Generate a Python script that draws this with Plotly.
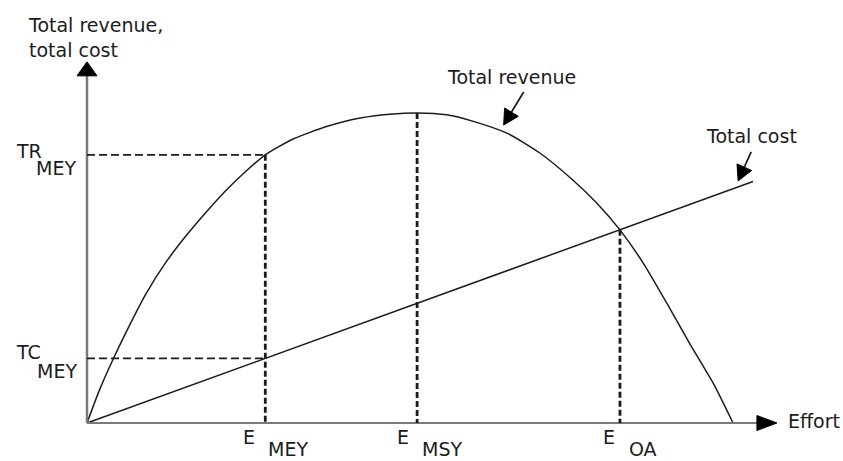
import numpy as np
import plotly.graph_objects as go

# Total revenue curve (effort vs revenue, arbitrary units)
effort = [0, 2.0, 4.2, 6.6, 9.1, 12.2, 15.3, 18.4, 21.5, 24.6, 27.6, 31.9, 37.2, 42.3,
          47.4, 51.1, 55.7, 59.8, 65.0, 70.1, 75.2, 78.9, 82.5, 86.1, 89.8, 93.3, 97.0, 100]
total_revenue = [0, 11.0, 21.3, 31.6, 41.6, 51.8, 60.3, 67.9, 75.0, 81.2, 86.5, 91.6, 95.7,
                 98.4, 99.7, 100, 99.4, 97.3, 93.5, 87.1, 78.4, 71.0, 62.3, 51.6, 38.5,
                 25.6, 12.6, 0]

# Total cost is linear in effort
cost_effort = [0, 103.1]
total_cost = [0, 77.9]

# Reference effort levels
E_MEY, E_MSY, E_OA = 27.6, 51.1, 82.5

TR_MEY = float(np.interp(E_MEY, effort, total_revenue))
TR_MSY = float(np.interp(E_MSY, effort, total_revenue))
TC_MEY = float(np.interp(E_MEY, cost_effort, total_cost))
TC_OA = float(np.interp(E_OA, cost_effort, total_cost))

# Axis extents (arrow tips)
X_AXIS_END = 106.8
Y_AXIS_TOP = 116.5

# Pixel geometry of the drawing
W, H = 843, 461
ML, MR, MT, MB = 40, 20, 40, 20
OX, OY = 87, 423          # origin in pixels
SX, SY = 6.46, 3.10       # pixels per data unit

x_range = [(ML - OX) / SX, (W - MR - OX) / SX]
y_range = [(OY - (H - MB)) / SY, (OY - MT) / SY]


def px2x(px):
    return (px - OX) / SX


def px2y(py):
    return (OY - py) / SY


def x2px(x):
    return OX + x * SX


def y2px(y):
    return OY - y * SY


INK = "#1c1c1c"
AXIS = "#7a7a7a"
FONT = dict(family="DejaVu Sans, Arial, sans-serif", size=19, color=INK)

shapes = []


def seg(x0, y0, x1, y1, color=INK, width=1.5, dash=None):
    line = dict(color=color, width=width)
    if dash:
        line["dash"] = dash
    shapes.append(dict(type="line", xref="x", yref="y", x0=x0, y0=y0, x1=x1, y1=y1,
                       line=line, layer="above"))


def head(tip_px, dir_px, length, width, color="black"):
    """Filled triangular arrowhead, built in pixel space and mapped to data."""
    tx, ty = tip_px
    dx, dy = dir_px
    n = np.hypot(dx, dy)
    dx, dy = dx / n, dy / n
    bx, by = tx - dx * length, ty - dy * length
    px_, py_ = -dy, dx
    pts = [(tx, ty), (bx + px_ * width / 2, by + py_ * width / 2),
           (bx - px_ * width / 2, by - py_ * width / 2)]
    path = "M " + " L ".join(f"{px2x(a):.4f},{px2y(b):.4f}" for a, b in pts) + " Z"
    shapes.append(dict(type="path", xref="x", yref="y", path=path,
                       fillcolor=color, line=dict(color=color, width=1), layer="above"))


def callout(tip_px, tail_px, blen=15, bwid=16):
    tx, ty = tip_px
    ax, ay = tail_px
    d = (tx - ax, ty - ay)
    n = np.hypot(*d)
    base = (tx - d[0] / n * (blen - 1), ty - d[1] / n * (blen - 1))
    seg(px2x(ax), px2y(ay), px2x(base[0]), px2y(base[1]), color=INK, width=1.7)
    head(tip_px, d, blen, bwid, color="black")


# Axes with arrowheads
seg(0, 0, 0, px2y(y2px(Y_AXIS_TOP) + 12), color=AXIS, width=2.5)
seg(0, 0, px2x(x2px(X_AXIS_END) - 18), 0, color=AXIS, width=2.2)
head((x2px(0), y2px(Y_AXIS_TOP)), (0, -1), 14, 20)
head((x2px(X_AXIS_END), y2px(0)), (1, 0), 20, 15)

# Dashed guides
HD = "8px,4px"
VD = "6px,3px"
seg(0, TR_MEY, E_MEY, TR_MEY, width=1.8, dash=HD)
seg(0, TC_MEY, E_MEY, TC_MEY, width=1.8, dash=HD)
seg(E_MEY, TR_MEY, E_MEY, 0, width=2.8, dash=VD)
seg(E_MSY, TR_MSY, E_MSY, 0, width=2.8, dash=VD)
seg(E_OA, TC_OA, E_OA, 0, width=2.8, dash=VD)

# Callout arrows for curve labels
tr_pt = 64.5
tr_tip = (x2px(tr_pt), y2px(float(np.interp(tr_pt, effort, total_revenue))) - 7)
callout(tr_tip, (tr_tip[0] + 20, tr_tip[1] - 33))
tc_pt = 100.8
tc_tip = (x2px(tc_pt), y2px(float(np.interp(tc_pt, cost_effort, total_cost))) - 6)
callout(tc_tip, (tc_tip[0] + 13, tc_tip[1] - 29))

fig = go.Figure()
fig.add_trace(go.Scatter(x=effort, y=total_revenue, mode="lines",
                         line=dict(color=INK, width=1.5, shape="spline", smoothing=0.6),
                         hoverinfo="skip", showlegend=False))
fig.add_trace(go.Scatter(x=cost_effort, y=total_cost, mode="lines",
                         line=dict(color=INK, width=1.5),
                         hoverinfo="skip", showlegend=False))

annotations = []


def label(text, x, y, xshift=0, yshift=0, xanchor="left", align="left"):
    annotations.append(dict(text=text, x=x, y=y, xref="x", yref="y", showarrow=False,
                            xanchor=xanchor, yanchor="middle", xshift=xshift,
                            yshift=yshift, align=align, font=FONT))


label("Total revenue,<br>total cost", 0, Y_AXIS_TOP, xshift=-61, yshift=24)
label("TR", 0, TR_MEY, xshift=-73, yshift=4)
label("MEY", 0, TR_MEY, xshift=-53, yshift=-13)
label("TC", 0, TC_MEY, xshift=-73, yshift=6)
label("MEY", 0, TC_MEY, xshift=-52, yshift=-13)
label("E", E_MEY, 0, xshift=-8, yshift=-14, xanchor="right")
label("MEY", E_MEY, 0, xshift=1, yshift=-26)
label("E", E_MSY, 0, xshift=-6, yshift=-14, xanchor="right")
label("MSY", E_MSY, 0, xshift=3, yshift=-26)
label("E", E_OA, 0, xshift=-3, yshift=-14, xanchor="right")
label("OA", E_OA, 0, xshift=7, yshift=-26)
label("Effort", X_AXIS_END, 0, xshift=9, yshift=2)
label("Total revenue", px2x(445), px2y(76.5))
label("Total cost", px2x(704), px2y(136))

fig.update_layout(
    width=W, height=H,
    margin=dict(l=ML, r=MR, t=MT, b=MB),
    paper_bgcolor="white", plot_bgcolor="white",
    xaxis=dict(range=x_range, visible=False, fixedrange=True),
    yaxis=dict(range=y_range, visible=False, fixedrange=True),
    shapes=shapes, annotations=annotations,
    showlegend=False,
)

fig.write_html("out.html")
